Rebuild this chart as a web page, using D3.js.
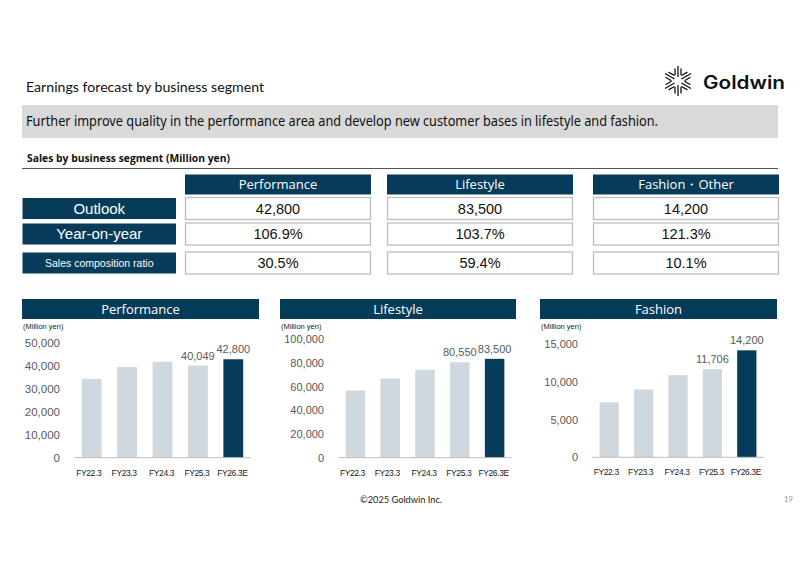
<!DOCTYPE html>
<html>
<head>
<meta charset="utf-8">
<script src="https://cdn.jsdelivr.net/npm/d3@7"></script>
<style>
  body { margin: 0; background: #fff; }
  svg { display: block; }
</style>
</head>
<body>
<div id="slide"></div>
<script>
// table data
const segments = ["Performance", "Lifestyle", "Fashion・Other"];
const rowLabels = ["Outlook", "Year-on-year", "Sales composition ratio"];
const outlook = ["42,800", "83,500", "14,200"];
const yoy = ["106.9%", "103.7%", "121.3%"];
const ratio = ["30.5%", "59.4%", "10.1%"];

// chart data (million yen)
const years = ["FY22.3", "FY23.3", "FY24.3", "FY25.3", "FY26.3E"];
const chartTitles = ["Performance", "Lifestyle", "Fashion"];
const perfSales = [34300, 39400, 41700, 40049, 42800];
const lifeSales = [56800, 66900, 74200, 80550, 83500];
const fashSales = [7300, 9000, 10900, 11706, 14200];
const perfTicks = [0, 10000, 20000, 30000, 40000, 50000];
const lifeTicks = [0, 20000, 40000, 60000, 80000, 100000];
const fashTicks = [0, 5000, 10000, 15000];
const labelled = [3, 4]; // bars with value labels

const navy = "#063b5a";
const lightBar = "#cfd8de";
const grayText = "#595959";

const svg = d3.select("#slide").append("svg")
    .attr("width", 800)
    .attr("height", 565);

// Title + logo
svg.append("text")
    .attr("x", 26).attr("y", 92)
    .attr("textLength", 238).attr("lengthAdjust", "spacingAndGlyphs")
    .style("font-family", "Lato, 'Liberation Sans', sans-serif")
    .style("font-size", "14px")
    .attr("fill", "#111")
    .text("Earnings forecast by business segment");

const logo = svg.append("g").attr("transform", "translate(678,81)");
[30, 90, 150, 210, 270, 330].forEach(a => {
    const arm = logo.append("g").attr("transform", `rotate(${a})`);
    [-3, 0, 3].forEach(off => {
        arm.append("line")
            .attr("x1", 4 + Math.abs(off) * 0.6).attr("x2", 15 - Math.abs(off) * 0.8)
            .attr("y1", off).attr("y2", off)
            .attr("stroke", "#111").attr("stroke-width", 1.3);
    });
});
svg.append("text")
    .attr("x", 703).attr("y", 88.5)
    .attr("textLength", 82).attr("lengthAdjust", "spacingAndGlyphs")
    .style("font-family", "Inter, 'Liberation Sans', sans-serif")
    .style("font-size", "18px").style("font-weight", "600")
    .attr("fill", "#111")
    .text("Goldwin");

// Gray message band
svg.append("rect")
    .attr("x", 22).attr("y", 105).attr("width", 756).attr("height", 33)
    .attr("fill", "#d9d9d9");
svg.append("text")
    .attr("x", 26).attr("y", 125.5)
    .attr("textLength", 632).attr("lengthAdjust", "spacingAndGlyphs")
    .style("font-family", "'Noto Sans', sans-serif")
    .style("font-size", "13.5px")
    .attr("fill", "#111")
    .text("Further improve quality in the performance area and develop new customer bases in lifestyle and fashion.");

// Section heading
svg.append("text")
    .attr("x", 27).attr("y", 162)
    .attr("textLength", 203).attr("lengthAdjust", "spacingAndGlyphs")
    .style("font-family", "'Open Sans', sans-serif")
    .style("font-size", "11px").style("font-weight", "bold")
    .attr("fill", "#111")
    .text("Sales by business segment (Million yen)");
svg.append("line")
    .attr("x1", 22).attr("x2", 778).attr("y1", 168.5).attr("y2", 168.5)
    .attr("stroke", "#555").attr("stroke-width", 1);

// Table
const colX = [185, 387, 593];
const colW = 186;
const rowY = [198, 223.5, 252.5];
const rowH = 21;
const rowValues = [outlook, yoy, ratio];

segments.forEach((s, i) => {
    svg.append("rect")
        .attr("x", colX[i]).attr("y", 174.5).attr("width", colW).attr("height", 20)
        .attr("fill", navy);
    svg.append("text")
        .attr("x", colX[i] + colW / 2).attr("y", 189)
        .attr("text-anchor", "middle")
        .style("font-family", "'Open Sans', sans-serif")
        .style("font-size", "13px")
        .attr("fill", "#fff")
        .text(s);
});

rowLabels.forEach((lab, r) => {
    svg.append("rect")
        .attr("x", 22.5).attr("y", rowY[r]).attr("width", 153.5).attr("height", rowH)
        .attr("fill", navy);
    svg.append("text")
        .attr("x", 22.5 + 153.5 / 2).attr("y", rowY[r] + rowH / 2)
        .attr("dy", "0.36em")
        .attr("text-anchor", "middle")
        .style("font-family", "'Liberation Sans', Arial, sans-serif")
        .style("font-size", r === 2 ? "10.5px" : "15px")
        .attr("fill", "#fff")
        .text(lab);
    rowValues[r].forEach((v, i) => {
        svg.append("rect")
            .attr("x", colX[i] + 0.5).attr("y", rowY[r] - 0.5)
            .attr("width", colW - 1).attr("height", rowH + 1)
            .attr("fill", "#fff").attr("stroke", "#bdbdbd").attr("stroke-width", 1.3);
        svg.append("text")
            .attr("x", colX[i] + colW / 2).attr("y", rowY[r] + rowH / 2)
            .attr("dy", "0.36em")
            .attr("text-anchor", "middle")
            .style("font-family", "'Liberation Sans', Arial, sans-serif")
            .style("font-size", "14.5px")
            .attr("fill", "#111")
            .text(v);
    });
});

// Bar charts
const charts = [
    { title: chartTitles[0], values: perfSales, ticks: perfTicks, hx: 22, hw: 237, xr: [74, 251], y0: 457.7, top: 342.7, fs: 11.5 },
    { title: chartTitles[1], values: lifeSales, ticks: lifeTicks, hx: 280, hw: 236, xr: [338, 512], y0: 457.7, top: 339.3, fs: 11 },
    { title: chartTitles[2], values: fashSales, ticks: fashTicks, hx: 540, hw: 237, xr: [592, 764], y0: 457.3, top: 344.3, fs: 11 }
];

charts.forEach(c => {
    const g = svg.append("g");

    g.append("rect")
        .attr("x", c.hx).attr("y", 299).attr("width", c.hw).attr("height", 20)
        .attr("fill", navy);
    g.append("text")
        .attr("x", c.hx + c.hw / 2).attr("y", 314)
        .attr("text-anchor", "middle")
        .style("font-family", "'Open Sans', sans-serif")
        .style("font-size", "13px")
        .attr("fill", "#fff")
        .text(c.title);
    g.append("text")
        .attr("x", c.hx + 1).attr("y", 329)
        .style("font-family", "'Liberation Sans', Arial, sans-serif")
        .style("font-size", "7.5px")
        .attr("fill", "#222")
        .text("(Million yen)");

    const x = d3.scaleBand()
        .domain(years)
        .range(c.xr)
        .paddingInner(0.44)
        .paddingOuter(0.22);

    const y = d3.scaleLinear()
        .domain([0, d3.max(c.ticks)])
        .range([c.y0, c.top]);

    const yAxis = g.append("g")
        .attr("transform", `translate(${c.xr[0] - 14},0)`)
        .call(d3.axisLeft(y).tickValues(c.ticks).tickFormat(d3.format(",")).tickSize(0).tickPadding(0));
    yAxis.select(".domain").remove();
    yAxis.selectAll("text")
        .style("font-family", "'Liberation Sans', Arial, sans-serif")
        .style("font-size", c.fs + "px")
        .attr("fill", grayText);

    g.selectAll(".bar")
        .data(c.values)
        .join("rect")
        .attr("x", (d, i) => x(years[i]))
        .attr("y", d => y(d))
        .attr("width", x.bandwidth())
        .attr("height", d => y(0) - y(d))
        .attr("fill", (d, i) => i === years.length - 1 ? navy : lightBar);

    g.append("line")
        .attr("x1", c.xr[0]).attr("x2", c.xr[1])
        .attr("y1", y(0)).attr("y2", y(0))
        .attr("stroke", "#bfbfbf").attr("stroke-width", 1);

    const xAxis = g.append("g")
        .attr("transform", `translate(0,${y(0)})`)
        .call(d3.axisBottom(x).tickSize(0).tickPadding(12));
    xAxis.select(".domain").remove();
    xAxis.selectAll("text")
        .attr("dx", (d, i) => i < 2 ? "-3" : "-1")
        .style("font-family", "'Liberation Sans Narrow', 'Liberation Sans', Arial, sans-serif")
        .style("font-size", "8.5px")
        .style("letter-spacing", "-0.4px")
        .attr("fill", "#222");

    labelled.forEach(i => {
        g.append("text")
            .attr("x", x(years[i]) + x.bandwidth() / 2)
            .attr("y", y(c.values[i]) - 6)
            .attr("text-anchor", "middle")
            .style("font-family", "'Liberation Sans', Arial, sans-serif")
            .style("font-size", "11px")
            .attr("fill", grayText)
            .text(d3.format(",")(c.values[i]));
    });
});

// Footer
svg.append("text")
    .attr("x", 360).attr("y", 503)
    .attr("textLength", 82).attr("lengthAdjust", "spacingAndGlyphs")
    .style("font-family", "Lato, sans-serif")
    .style("font-size", "9px")
    .attr("fill", "#222")
    .text("©2025 Goldwin Inc.");
svg.append("text")
    .attr("x", 793).attr("y", 502)
    .attr("text-anchor", "end")
    .style("font-family", "Lato, sans-serif")
    .style("font-size", "8px")
    .attr("fill", "#999")
    .text("19");
</script>
</body>
</html>
